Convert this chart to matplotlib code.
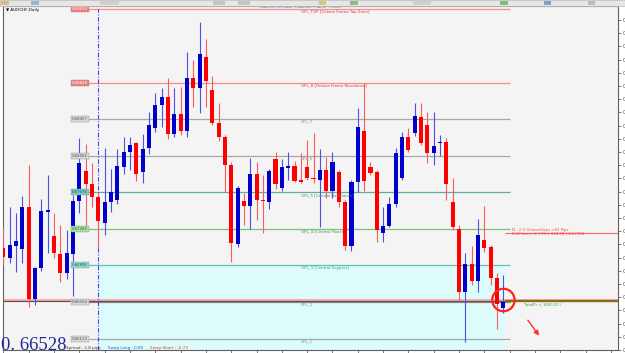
import matplotlib
matplotlib.use("Agg")
import matplotlib.pyplot as plt
from matplotlib.patches import Rectangle
import numpy as np

# AUDCHF daily bars, oldest first
opens = [0.67081, 0.66974, 0.67102, 0.67070, 0.67519, 0.66536, 0.66867, 0.67465, 0.67209, 0.67017,
         0.66814, 0.67017, 0.67583, 0.67903, 0.67765, 0.67626, 0.67348, 0.67572, 0.67594, 0.67946,
         0.68106, 0.68202, 0.67893, 0.68149, 0.68363, 0.68608, 0.68694, 0.68299, 0.68512, 0.68331,
         0.68897, 0.68790, 0.69121, 0.68769, 0.68416, 0.68267, 0.67967, 0.67124, 0.67583, 0.67530,
         0.67871, 0.67594, 0.67572, 0.68032, 0.67722, 0.67935, 0.67957, 0.67807, 0.67946, 0.67829,
         0.67807, 0.67914, 0.67690, 0.67893, 0.67572, 0.67102, 0.67786, 0.68331, 0.67946, 0.67893,
         0.67241, 0.67316, 0.67551, 0.67829, 0.68267, 0.68309, 0.68480, 0.68395, 0.68096, 0.68202,
         0.68213, 0.67572, 0.67284, 0.66611, 0.66910, 0.66728, 0.67166, 0.67091, 0.66760, 0.66440]
highs = [0.67294, 0.67519, 0.67455, 0.67636, 0.67967, 0.66878, 0.67604, 0.67861, 0.67455, 0.67327,
         0.67273, 0.67647, 0.68256, 0.68192, 0.67989, 0.67679, 0.68149, 0.67925, 0.68138, 0.68267,
         0.68267, 0.68213, 0.68299, 0.68534, 0.68737, 0.68790, 0.68897, 0.68790, 0.68801, 0.69175,
         0.69089, 0.69495, 0.69313, 0.68918, 0.68630, 0.68288, 0.68000, 0.67743, 0.67668, 0.68042,
         0.68000, 0.67861, 0.67925, 0.68106, 0.68032, 0.68106, 0.68010, 0.68096, 0.68235, 0.68309,
         0.68138, 0.68053, 0.68106, 0.67914, 0.67594, 0.67807, 0.68576, 0.68843, 0.68000, 0.67914,
         0.67519, 0.67626, 0.68149, 0.68320, 0.68363, 0.68630, 0.68630, 0.68534, 0.68534, 0.68288,
         0.68256, 0.67829, 0.67327, 0.67027, 0.67102, 0.67391, 0.67530, 0.67113, 0.66814, 0.66792]
lows = [0.66899, 0.66921, 0.66824, 0.66921, 0.66451, 0.66472, 0.66835, 0.67027, 0.66974, 0.66718,
        0.66750, 0.66568, 0.67455, 0.67305, 0.67519, 0.67081, 0.67220, 0.67465, 0.67551, 0.67871,
        0.67914, 0.67797, 0.67775, 0.68085, 0.68320, 0.68373, 0.68245, 0.68267, 0.68288, 0.68267,
        0.68587, 0.68523, 0.68587, 0.68395, 0.68224, 0.67679, 0.66931, 0.67091, 0.67327, 0.67284,
        0.67380, 0.67241, 0.67497, 0.67711, 0.67690, 0.67807, 0.67786, 0.67775, 0.67807, 0.67775,
        0.67305, 0.67615, 0.67615, 0.67519, 0.67060, 0.67049, 0.67679, 0.67690, 0.67861, 0.67145,
        0.67145, 0.67305, 0.67519, 0.67807, 0.68106, 0.68277, 0.68181, 0.67989, 0.67967, 0.68064,
        0.67594, 0.67273, 0.66515, 0.66077, 0.66686, 0.66611, 0.67038, 0.66686, 0.66216, 0.66387]
closes = [0.66985, 0.67113, 0.67156, 0.67519, 0.66536, 0.66867, 0.67476, 0.67487, 0.67027, 0.66814,
          0.67027, 0.67583, 0.67989, 0.67765, 0.67626, 0.67369, 0.67572, 0.67679, 0.67957, 0.68106,
          0.68181, 0.67871, 0.68138, 0.68395, 0.68608, 0.68694, 0.68299, 0.68512, 0.68331, 0.68897,
          0.68790, 0.69153, 0.68865, 0.68416, 0.68267, 0.67967, 0.67134, 0.67722, 0.67530, 0.67871,
          0.67594, 0.67583, 0.67903, 0.67765, 0.67946, 0.67957, 0.67797, 0.67786, 0.67829, 0.67818,
          0.67914, 0.67690, 0.68000, 0.67572, 0.67102, 0.67786, 0.68373, 0.67797, 0.67882, 0.67273,
          0.67316, 0.67551, 0.68096, 0.68267, 0.68128, 0.68491, 0.68202, 0.68096, 0.68170, 0.68213,
          0.67765, 0.67305, 0.66611, 0.66910, 0.66728, 0.67220, 0.67081, 0.66760, 0.66483, 0.66504]

# octave frame levels
level_names = ["OPL_1", "OPL_2", "OPL_3", "OPL_4", "OPL_5", "OPL_6", "OPL_7", "OPL_8", "OPL_TOP"]
level_values = [0.66113, 0.66504, 0.66895, 0.67285, 0.67676, 0.68066, 0.68457, 0.68848, 0.69629]
level_notes = ["", "", " [Central Support]", " [Central Pivot]", " [Central Resistance]",
               "", "", " [Octave Frame Resistance]", " [Octave Frame Top Zone]"]

bid = 0.66528
n_level = 0.67238          # N - 2.0 octave gaps line
frame_start = 15           # bar where the frame (dashed line) starts
frame_end = 80

line_col = {"OPL_TOP": "#ff8c8c", "OPL_8": "#ff8c8c", "OPL_7": "#a8a8a8", "OPL_6": "#a8a8a8",
            "OPL_5": "#5fae9c", "OPL_4": "#7cc07c", "OPL_3": "#5fc0b8", "OPL_2": "#8a8a8a",
            "OPL_1": "#a8a8a8"}
box_col = {"OPL_TOP": ("#f07c7c", "white"), "OPL_8": ("#f07c7c", "white"),
           "OPL_7": ("#d8d8d8", "#555555"), "OPL_6": ("#d8d8d8", "#555555"),
           "OPL_5": ("#7ccabd", "#1d5c55"), "OPL_4": ("#a6e3a6", "#2d6b2d"),
           "OPL_3": ("#8fd8d0", "#1d5c55"), "OPL_2": ("#d8d8d8", "#555555"),
           "OPL_1": ("#d8d8d8", "#555555")}
text_col = {"OPL_TOP": "#e03030", "OPL_8": "#e03030", "OPL_5": "#3c8f80",
            "OPL_4": "#3c8f3c", "OPL_3": "#3c9a90"}

fig = plt.figure(figsize=(6.25, 3.53), dpi=100)
fig.patch.set_facecolor("white")
# terminal toolbar strip at the very top
fig.patches.append(Rectangle((0, 1 - 6 / 353), 1, 6 / 353, transform=fig.transFigure,
                             facecolor="#e6e6e6", edgecolor="#b8b8b8", lw=0.5))
for x0, w, col in [(0.002, 0.012, "#c8a040"), (0.05, 0.012, "#7090c0"), (0.16, 0.03, "#c0c0c0"),
                   (0.34, 0.02, "#b0b0b0"), (0.38, 0.02, "#b0b0b0"), (0.51, 0.012, "#d0b040"),
                   (0.56, 0.012, "#50a050"), (0.66, 0.03, "#c0c0c0"), (0.80, 0.012, "#40a040"),
                   (0.87, 0.012, "#4070c0"), (0.94, 0.012, "#a0a0a0")]:
    fig.patches.append(Rectangle((x0, 1 - 5 / 353), w, 4 / 353, transform=fig.transFigure,
                                 facecolor=col, edgecolor="none", alpha=0.6))

ax = fig.add_axes([3 / 625, 3 / 353, 615 / 625, 344 / 353])
ax.set_facecolor("#f4f4f4")
ax.set_xlim(-0.05, 97.1)
ax.set_ylim(0.65991, 0.69666)

# support zone below OPL_3
ax.add_patch(Rectangle((frame_start, 0.65991), 79.2 - frame_start, level_values[2] - 0.65991,
                       facecolor="#dcfcfc", edgecolor="none", zorder=0))

# level lines, price boxes and captions
for name, val, note in zip(level_names, level_values, level_notes):
    ax.hlines(val, 13.4, frame_end, color=line_col[name], lw=0.9, zorder=1)
    fc, tc = box_col[name]
    ax.text(12.05, val, f"{val:.5f}", fontsize=2.8, color=tc, ha="center", va="center", zorder=5,
            bbox=dict(boxstyle="square,pad=0.25", facecolor=fc, edgecolor="#909090", lw=0.3))
    ax.text(47.0, val - 0.00028, name + note, fontsize=2.8, color=text_col.get(name, "#808080"),
            ha="left", va="center", zorder=5)

ax.vlines(frame_start, 0.65991, level_values[-1], color="#4040ff", lw=0.8,
          linestyles=(0, (4, 1.5, 1, 1.5)), zorder=2)

# price lines
ax.axhline(bid, color="#ff9a9a", lw=1.2, zorder=1)
ax.axhline(0.66513, color="#505050", lw=0.8, zorder=1)
ax.hlines(0.66513, 79.2, 97.1, color="#8b6a14", lw=1.6, zorder=2)
ax.hlines(n_level, 79.2, 97.1, color="#ff6060", lw=0.8, zorder=2)

# candles
x = np.arange(len(opens))
o = np.array(opens)
c = np.array(closes)
up = c >= o
body_col = np.where(up, "#0000cd", "#ff0000")
wick_col = np.where(up, "#5050e6", "#ff5a5a")
ax.vlines(x, lows, highs, color=wick_col, lw=0.8, zorder=3)
ax.bar(x, np.maximum(np.abs(c - o), 0.00009), bottom=np.minimum(o, c), width=0.64,
       color=body_col, edgecolor="none", zorder=4)

# highlight of the last bar
ax.scatter([79], [0.66525], s=260, facecolors="none", edgecolors="#ff2020", lw=1.6, zorder=6)
ax.annotate("", xy=(84.9, 0.66120), xytext=(82.6, 0.66333), zorder=6,
            arrowprops=dict(arrowstyle="-|>", color="#ff3030", lw=1.0, mutation_scale=7))
ax.text(82.3, 0.66470, "TotalPr = 1650.25 /", fontsize=2.8, color="#40a040", ha="left",
        va="center", zorder=6)

# N line captions
ax.text(80.3, n_level + 0.00036, "N - 2.0 OctaveGaps =63 Pips", fontsize=2.8, color="#ff4040",
        ha="left", va="center", zorder=6)
ax.text(80.3, n_level - 0.00005, "0.60 lots | -0.73% | 318.98 | 0.67158", fontsize=2.8,
        color="#ff4040", ha="left", va="center", zorder=6)

# headers
ax.text(47.0, 0.69650, "MASTER OCTAVE TRADING FRAME  T0000", fontsize=2.8, color="#2a8a9a",
        ha="center", va="center", zorder=6, clip_on=False)
ax.text(0.4, 0.69625, "\u25bc AUDCHF,Daily", fontsize=3.0, color="black", ha="left",
        va="center", zorder=6)

# bottom info line (figure pixels)
fig.text(1 / 625, 3 / 353, "0. 66528", fontsize=13.5, color="#1f2a9a",
         family="Liberation Serif", ha="left", va="baseline", zorder=7)
fig.text(66 / 625, 5.5 / 353, "Spread : 2.8 pips", fontsize=3.0, color="#404040", ha="left",
         va="center", zorder=7)
fig.text(108 / 625, 5.5 / 353, "Swap Long : 0.80", fontsize=3.0, color="#3050e0", ha="left",
         va="center", zorder=7)
fig.text(150 / 625, 5.5 / 353, "Swap Short : -6.73", fontsize=3.0, color="#ff3030", ha="left",
         va="center", zorder=7)

# axes like the terminal
ax.yaxis.tick_right()
yt = [0.69516 - 0.00141 * k for k in range(26)]
ax.set_yticks(yt)
ax.set_yticklabels([f"{v:.5f}" for v in yt], fontsize=3.5, color="#404040")
ax.tick_params(axis="y", length=2, width=0.5, pad=1, colors="#404040")
ax.set_xticks(np.arange(0, 97, 4))
ax.set_xticklabels([])
ax.tick_params(axis="x", length=2.5, width=0.5, colors="#404040", direction="out")
for side in ["left", "right", "bottom", "top"]:
    ax.spines[side].set_color("#606060")
    ax.spines[side].set_linewidth(0.8)

fig.savefig("out.png", dpi=100)
